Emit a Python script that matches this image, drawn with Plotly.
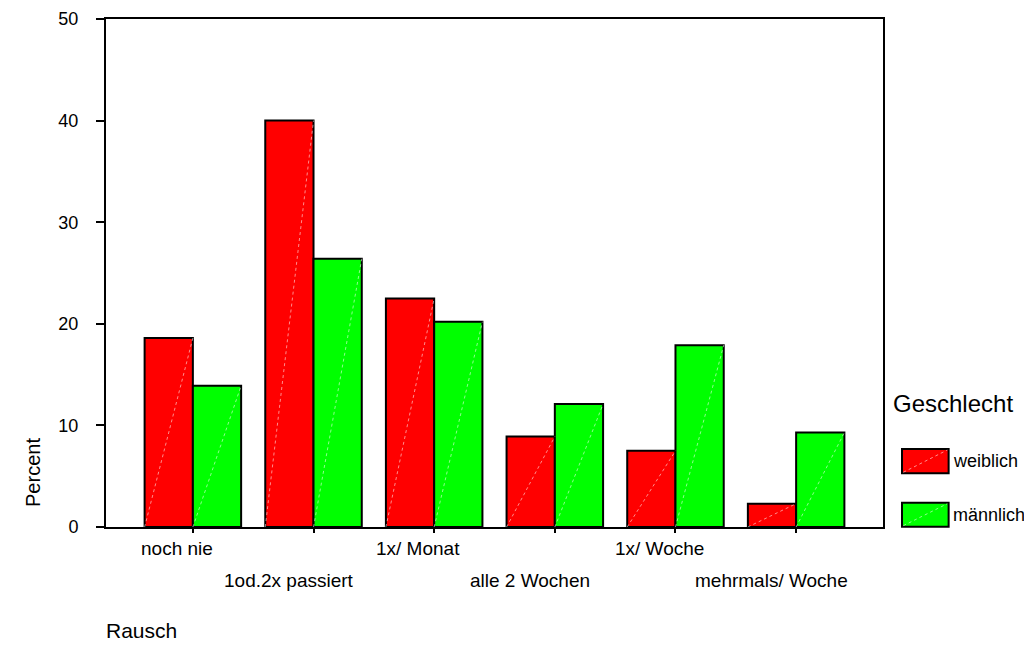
import plotly.graph_objects as go

categories = ["noch nie", "1od.2x passiert", "1x/ Monat", "alle 2 Wochen", "1x/ Woche", "mehrmals/ Woche"]
weiblich = [18.6, 40.0, 22.5, 8.9, 7.5, 2.3]
maennlich = [13.9, 26.4, 20.2, 12.1, 17.9, 9.3]
series_names = ["weiblich", "männlich"]
colors = ["#FF0000", "#00FF00"]
y_ticks = [0, 10, 20, 30, 40, 50]

# page is drawn inside the default 8px body margin
OFF = 8
PAGE_W, PAGE_H = 1032, 650
W, H = PAGE_W - OFF, PAGE_H - OFF
L, R, T, B = 106, 882.7, 19, 527          # plot area in page pixels
pw, ph = R - L, B - T
FONT = "Arial, Liberation Sans, sans-serif"

def px(x):
    return (x - L) / pw

def py(y):
    return (B - y) / ph

xs = list(range(len(categories)))
bw = 0.4

fig = go.Figure()
for vals, name, col, off in [(weiblich, series_names[0], colors[0], -bw), (maennlich, series_names[1], colors[1], 0.0)]:
    fig.add_trace(go.Bar(
        x=xs, y=vals, name=name, width=bw, offset=off,
        marker=dict(color=col, line=dict(color="black", width=2)),
        showlegend=False,
    ))
    dx, dy = [], []
    for i, v in zip(xs, vals):
        dx += [i + off, i + off + bw, None]
        dy += [0, v, None]
    fig.add_trace(go.Scatter(
        x=dx, y=dy, mode="lines", showlegend=False, hoverinfo="skip",
        line=dict(color="rgba(255,255,255,0.55)", width=1, dash="dot"),
    ))

annotations = []
for i, c in enumerate(categories):
    row = i % 2
    annotations.append(dict(
        x=i, xref="x", y=0, yref="paper", text=c, showarrow=False,
        xanchor="center", yanchor="middle",
        xshift=-16 if row == 0 else -25,
        yshift=-21 if row == 0 else -53,
        font=dict(size=19, color="black", family=FONT),
    ))

annotations.append(dict(x=px(33), y=py(472), xref="paper", yref="paper", text="Percent",
                        textangle=-90, showarrow=False, xanchor="center", yanchor="middle",
                        font=dict(size=20, color="black", family=FONT)))
annotations.append(dict(x=px(104), y=py(630), xref="paper", yref="paper", text="Rausch",
                        showarrow=False, xanchor="left", yanchor="middle",
                        font=dict(size=21, color="black", family=FONT)))
annotations.append(dict(x=px(891), y=py(403), xref="paper", yref="paper", text="Geschlecht",
                        showarrow=False, xanchor="left", yanchor="middle",
                        font=dict(size=24, color="black", family=FONT)))

shapes = []
sw = [(449, 473.3), (502.7, 526.7)]
for (y0, y1), name, col in zip(sw, series_names, colors):
    shapes.append(dict(type="rect", xref="paper", yref="paper",
                       x0=px(901.7), x1=px(948.3), y0=py(y1), y1=py(y0),
                       fillcolor=col, line=dict(color="black", width=2)))
    shapes.append(dict(type="line", xref="paper", yref="paper",
                       x0=px(903), x1=px(947), y0=py(y1 - 1), y1=py(y0 + 1),
                       line=dict(color="rgba(255,255,255,0.55)", width=1, dash="dot")))
    annotations.append(dict(x=px(951), y=py((y0 + y1) / 2), xref="paper", yref="paper",
                            text=name, showarrow=False, xanchor="left", yanchor="middle",
                            font=dict(size=18, color="black", family=FONT)))

fig.update_layout(
    width=W, height=H,
    margin=dict(l=L - OFF, r=PAGE_W - R, t=T - OFF, b=PAGE_H - B, pad=0, autoexpand=False),
    paper_bgcolor="white", plot_bgcolor="white",
    barmode="overlay",
    showlegend=False,
    annotations=annotations,
    shapes=shapes,
    font=dict(family=FONT, color="black"),
    xaxis=dict(range=[-0.72, 5.72], tickvals=xs, showticklabels=False,
               ticks="outside", ticklen=4, tickwidth=2, tickcolor="black",
               showline=True, linecolor="black", linewidth=2, mirror=True,
               showgrid=False, zeroline=False, fixedrange=True, automargin=False),
    yaxis=dict(range=[0, 50], tickvals=y_ticks, ticks="outside", ticklen=8,
               tickwidth=2, tickcolor="black", ticklabelstandoff=14,
               tickfont=dict(size=18, color="black", family=FONT),
               showline=True, linecolor="black", linewidth=2, mirror=True,
               showgrid=False, zeroline=False, fixedrange=True, automargin=False),
)

fig.write_html("out.html")
